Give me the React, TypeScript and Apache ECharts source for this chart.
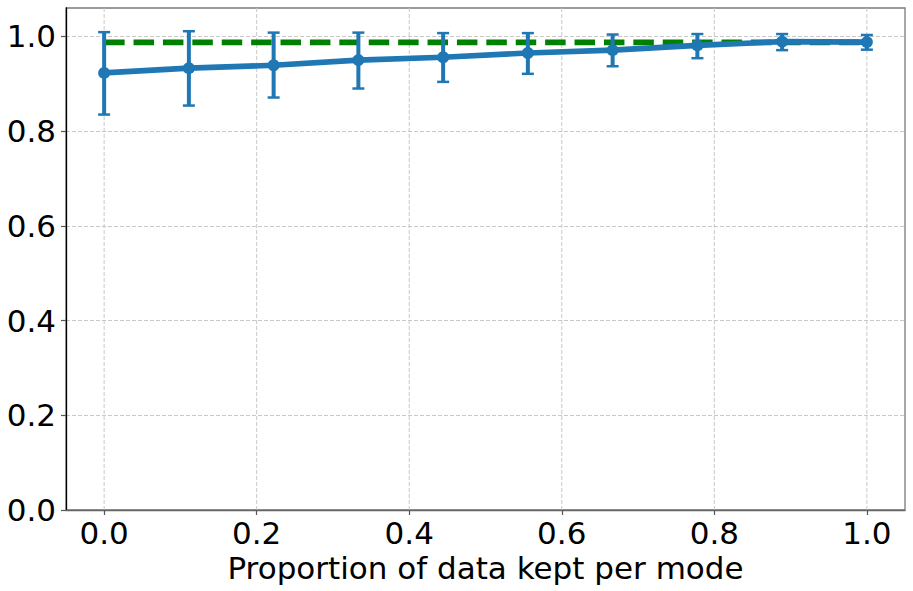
import React, { useEffect, useRef } from "react";
import * as echarts from "echarts";

const xValues = [0, 1 / 9, 2 / 9, 3 / 9, 4 / 9, 5 / 9, 6 / 9, 7 / 9, 8 / 9, 1];
const meanValues = [0.923, 0.933, 0.939, 0.950, 0.956, 0.965, 0.971, 0.981, 0.989, 0.988];
const lowValues = [0.835, 0.854, 0.871, 0.890, 0.904, 0.921, 0.937, 0.954, 0.971, 0.972];
const highValues = [1.009, 1.011, 1.008, 1.008, 1.007, 1.007, 1.004, 1.005, 1.005, 1.003];
const baselineValue = 0.9874;
const xTicks = [0, 0.2, 0.4, 0.6, 0.8, 1.0];
const yTicks = [0, 0.2, 0.4, 0.6, 0.8, 1.0];
const xAxisName = "Proportion of data kept per mode";

const FONT = "DejaVu Sans";
const BLUE = "#1f77b4";
const GREEN = "#008000";

export default function App() {
  const ref = useRef<HTMLDivElement>(null);
  useEffect(() => {
    if (!ref.current) return;
    const chart = echarts.init(ref.current, undefined, { renderer: "svg" });
    const yMin = 0;
    const yMax = 1.06;
    const option: any = {
      animation: false,
      backgroundColor: "#ffffff",
      grid: {
        left: 66,
        right: 8,
        top: 8,
        bottom: 81,
        show: true,
        borderColor: "#7a7a7a",
        borderWidth: 1.3,
        backgroundColor: "transparent",
      },
      xAxis: {
        type: "value",
        min: -0.05,
        max: 1.05,
        name: xAxisName,
        nameLocation: "middle",
        nameGap: 36,
        nameTextStyle: { fontSize: 31, color: "#000", fontFamily: FONT },
        axisLine: { show: true, onZero: false, lineStyle: { color: "#666", width: 1.3 } },
        axisTick: {
          show: true,
          customValues: xTicks,
          length: 5,
          lineStyle: { color: "#555", width: 1.2 },
        },
        axisLabel: {
          show: true,
          customValues: xTicks,
          formatter: (v: number) => v.toFixed(1),
          fontSize: 31,
          color: "#000",
          fontFamily: FONT,
          margin: 7,
        },
        splitLine: { show: false },
      },
      yAxis: {
        type: "value",
        min: yMin,
        max: yMax,
        interval: 0.2,
        axisLine: { show: true, onZero: false, lineStyle: { color: "#000", width: 1.3 } },
        axisTick: {
          show: true,
          customValues: yTicks,
          length: 5,
          lineStyle: { color: "#555", width: 1.2 },
        },
        axisLabel: {
          show: true,
          customValues: yTicks,
          formatter: (v: number) => v.toFixed(1),
          fontSize: 31,
          color: "#000",
          fontFamily: FONT,
          margin: 10,
        },
        splitLine: {
          show: true,
          lineStyle: { color: "#c8c8c8", width: 1, type: [4, 2] },
        },
      },
      series: [
        {
          type: "custom",
          name: "xgrid",
          z: 0,
          silent: true,
          data: xTicks.map((v) => [v]),
          encode: { x: 0 },
          renderItem: (params: any, api: any) => {
            const v = api.value(0);
            const p1 = api.coord([v, yMin]);
            const p2 = api.coord([v, yMax]);
            return {
              type: "line",
              shape: { x1: p1[0], y1: p1[1], x2: p2[0], y2: p2[1] },
              style: { stroke: "#c8c8c8", lineWidth: 1, lineDash: [4, 2] },
            };
          },
        },
        {
          type: "line",
          name: "baseline",
          z: 2,
          data: [
            [xValues[0], baselineValue],
            [xValues[xValues.length - 1], baselineValue],
          ],
          symbol: "none",
          lineStyle: { color: GREEN, width: 5.6, type: [20.5, 8.9], cap: "butt" },
        },
        {
          type: "custom",
          name: "errorbars",
          z: 3,
          data: xValues.map((x, i) => [x, lowValues[i], highValues[i]]),
          encode: { x: 0, y: [1, 2] },
          renderItem: (params: any, api: any) => {
            const x = api.value(0);
            const lo = api.value(1);
            const hi = api.value(2);
            const top = api.coord([x, hi]);
            const bot = api.coord([x, lo]);
            const cw = 6;
            return {
              type: "group",
              children: [
                {
                  type: "line",
                  shape: { x1: top[0], y1: top[1], x2: bot[0], y2: bot[1] },
                  style: { stroke: BLUE, lineWidth: 4 },
                },
                {
                  type: "line",
                  shape: { x1: top[0] - cw, y1: top[1], x2: top[0] + cw, y2: top[1] },
                  style: { stroke: BLUE, lineWidth: 2.5 },
                },
                {
                  type: "line",
                  shape: { x1: bot[0] - cw, y1: bot[1], x2: bot[0] + cw, y2: bot[1] },
                  style: { stroke: BLUE, lineWidth: 2.5 },
                },
              ],
            };
          },
        },
        {
          type: "line",
          name: "mean",
          z: 4,
          data: xValues.map((x, i) => [x, meanValues[i]]),
          symbol: "circle",
          symbolSize: 12,
          showSymbol: true,
          itemStyle: { color: BLUE },
          lineStyle: { color: BLUE, width: 5.6 },
        },
      ],
    };
    chart.setOption(option);
    return () => chart.dispose();
  }, []);
  return (
    <div
      ref={ref}
      style={{ position: "fixed", left: 0, top: 0, width: 913, height: 591 }}
    />
  );
}
